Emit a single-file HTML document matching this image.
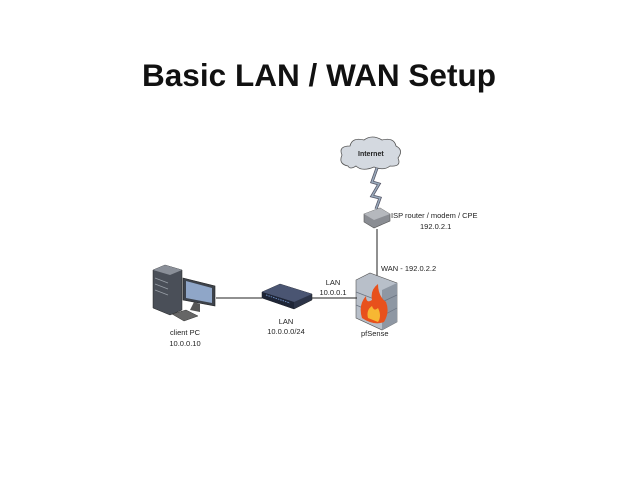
<!DOCTYPE html>
<html><head><style>
body{margin:0;width:638px;height:479px;background:#fff;overflow:hidden;font-family:"Liberation Sans",sans-serif;}
</style></head><body>
<svg width="638" height="479" xmlns="http://www.w3.org/2000/svg" font-family="Liberation Sans, sans-serif">
<text x="142" y="86" font-size="31.5" font-weight="bold" fill="#111" textLength="354">Basic LAN / WAN Setup</text>
<!-- cloud -->
<g fill="#d4d9e0" stroke="#555" stroke-width="0.8">
<path d="M348,166 Q338,164 342,155 Q338,146 350,146 Q352,137 364,140 Q372,134 382,140 Q394,137 396,146 Q404,150 398,158 Q402,167 390,166 Q384,171 374,167 Q362,172 356,166 Q350,170 348,166 Z"/>
</g>
<text x="358" y="156" font-size="7" font-weight="bold" fill="#222">Internet</text>
<!-- lightning -->
<path d="M377,168 L372,182 L379,184 L372,196 L380,198 L376,209" fill="none" stroke="#556" stroke-width="3"/>
<path d="M377,168 L372,182 L379,184 L372,196 L380,198 L376,209" fill="none" stroke="#9ab" stroke-width="1.5"/>
<!-- router -->
<path d="M364,214 L380,208 L390,214 L390,221 L374,228 L364,222 Z" fill="#8a8d93" stroke="#555" stroke-width="0.6"/>
<path d="M364,214 L374,220 L390,214 L380,208 Z" fill="#b5b8bd"/>
<text x="391" y="218" font-size="7.5" fill="#222">ISP router / modem / CPE</text>
<text x="420" y="229" font-size="7.5" fill="#222">192.0.2.1</text>
<line x1="377" y1="229" x2="377" y2="285" stroke="#222" stroke-width="1"/>
<text x="381" y="271" font-size="7.5" fill="#222">WAN - 192.0.2.2</text>
<!-- firewall -->
<path d="M356,280 L370,273 L397,283 L397,322 L382,330 L356,318 Z" fill="#b8bfc9" stroke="#555" stroke-width="0.6"/>
<path d="M382,290 L397,283 L397,322 L382,330 Z" fill="#8e97a3"/>
<g stroke="#6a7380" stroke-width="0.7"><line x1="356" y1="292" x2="382" y2="302"/><line x1="356" y1="305" x2="382" y2="316"/><line x1="382" y1="302" x2="397" y2="295"/><line x1="382" y1="316" x2="397" y2="308"/></g>
<path d="M362,318 Q358,305 366,296 Q366,304 372,300 Q370,290 378,284 Q378,296 386,302 Q390,312 384,322 Q374,326 362,318 Z" fill="#e8511c"/>
<path d="M368,318 Q366,310 372,306 Q374,312 378,308 Q382,316 378,322 Z" fill="#f7b733"/>
<text x="361" y="336" font-size="7.5" fill="#222">pfSense</text>
<line x1="311" y1="298" x2="357" y2="298" stroke="#222" stroke-width="1"/>
<text x="333" y="285" font-size="7.5" fill="#222" text-anchor="middle">LAN</text>
<text x="333" y="295" font-size="7.5" fill="#222" text-anchor="middle">10.0.0.1</text>
<!-- switch -->
<path d="M262,292 L280,284 L312,294 L312,300 L294,309 L262,298 Z" fill="#2c3448" stroke="#222" stroke-width="0.5"/>
<path d="M262,292 L280,284 L312,294 L294,302 Z" fill="#4a5572"/>
<path d="M262,292 L294,302 L294,309 L262,298 Z" fill="#1e2536"/>
<line x1="266" y1="295" x2="290" y2="303" stroke="#6a8ac0" stroke-width="1" stroke-dasharray="1.5,1"/>
<text x="286" y="324" font-size="7.5" fill="#222" text-anchor="middle">LAN</text>
<text x="286" y="334" font-size="7.5" fill="#222" text-anchor="middle">10.0.0.0/24</text>
<line x1="216" y1="298" x2="262" y2="298" stroke="#222" stroke-width="1"/>
<!-- PC -->
<path d="M153,270 L165,265 L182,270 L182,310 L170,315 L153,308 Z" fill="#4a4f58" stroke="#222" stroke-width="0.5"/>
<path d="M153,270 L165,265 L182,270 L170,275 Z" fill="#8a8f98"/>
<g stroke="#9aa0a8" stroke-width="0.7"><line x1="155" y1="278" x2="168" y2="283"/><line x1="155" y1="284" x2="168" y2="289"/><line x1="155" y1="290" x2="168" y2="295"/></g>
<path d="M183,278 L215,286 L215,306 L183,300 Z" fill="#3d424a" stroke="#222" stroke-width="0.6"/>
<path d="M186,281 L212,288 L212,303 L186,298 Z" fill="#8fa6c8"/>
<path d="M194,302 L200,304 L200,312 L190,310 Z" fill="#555"/>
<path d="M172,314 L186,310 L198,316 L184,321 Z" fill="#666" stroke="#333" stroke-width="0.5"/>
<text x="185" y="335" font-size="7.5" fill="#222" text-anchor="middle">client PC</text>
<text x="185" y="346" font-size="7.5" fill="#222" text-anchor="middle">10.0.0.10</text>
</svg>
</body></html>
